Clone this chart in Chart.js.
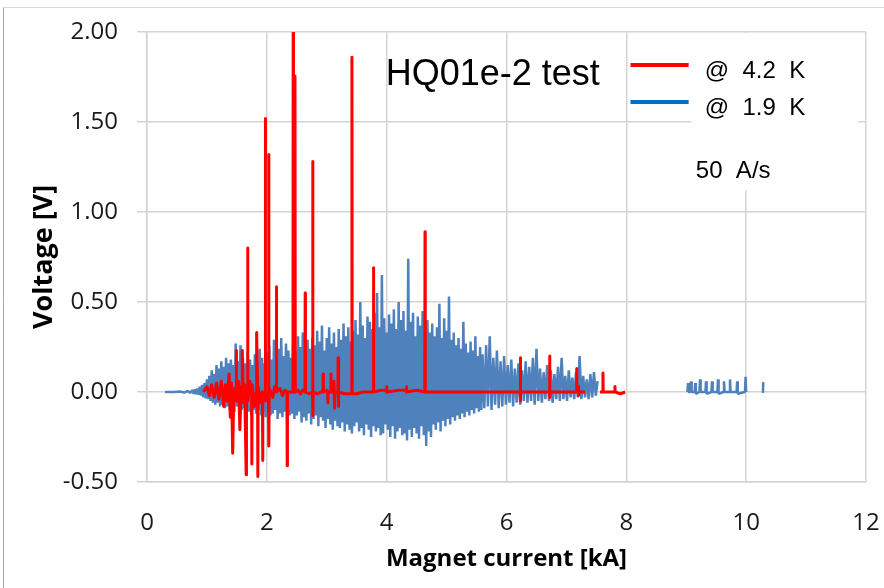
<!DOCTYPE html>
<html>
<head>
<meta charset="utf-8">
<script src="https://cdn.jsdelivr.net/npm/chart.js@4.4.1/dist/chart.umd.min.js"></script>
<style>
  html, body { margin: 0; padding: 0; background: #ffffff; }
  #wrap { width: 884px; height: 588px; }
</style>
</head>
<body>
<div id="wrap"><canvas id="quenchChart" width="884" height="588"></canvas></div>
<script>
// HQ01e-2 test - voltage vs magnet current, two temperatures

// axis ticks
const xTicks = [0, 2, 4, 6, 8, 10, 12];
const yTicks = [-0.5, 0, 0.5, 1.0, 1.5, 2.0];

// @ 4.2 K trace (red) - kA / V
const redCurrent = [
  0.94, 1.00, 1.04, 1.08, 1.12, 1.16, 1.20, 1.24, 1.28, 1.31,
  1.34, 1.37, 1.39, 1.41, 1.43, 1.45, 1.486, 1.49, 1.495, 1.53,
  1.55, 1.57, 1.586, 1.59, 1.61, 1.63, 1.655, 1.66, 1.676, 1.68,
  1.684, 1.72, 1.746, 1.75, 1.754, 1.80, 1.826, 1.83, 1.846, 1.85,
  1.854, 1.90, 1.926, 1.93, 1.934, 1.971, 1.975, 1.979, 2.026, 2.03,
  2.036, 2.04, 2.10, 2.13, 2.156, 2.16, 2.164, 2.22, 2.26, 2.30,
  2.336, 2.34, 2.344, 2.436, 2.44, 2.445, 2.466, 2.47, 2.475, 2.52,
  2.56, 2.60, 2.636, 2.64, 2.644, 2.70, 2.761, 2.765, 2.770, 2.775,
  2.85, 2.90, 2.936, 2.94, 2.944, 3.00, 3.016, 3.02, 3.024, 3.066,
  3.07, 3.074, 3.116, 3.12, 3.13, 3.14, 3.186, 3.19, 3.195, 3.20,
  3.30, 3.416, 3.42, 3.425, 3.50, 3.60, 3.776, 3.78, 3.784, 3.90,
  3.996, 4.00, 4.004, 4.20, 4.326, 4.33, 4.334, 4.50, 4.636, 4.64,
  4.644, 5.00, 6.00, 6.226, 6.23, 6.234, 6.238, 6.716, 6.72, 6.724,
  6.728, 7.166, 7.17, 7.174, 7.196, 7.20, 7.204, 7.21, 7.31, 7.45,
  7.56, 7.606, 7.61, 7.614, 7.806, 7.81, 7.814, 7.90, 7.98
];
const redVoltage = [
  0.00, 0.03, -0.02, 0.04, -0.03, 0.05, -0.04, 0.06, -0.08, 0.04,
  -0.05, 0.10, -0.14, 0.05, -0.34, 0.02, 0.00, 0.23, -0.05, 0.06,
  -0.21, 0.03, 0.00, 0.23, -0.06, 0.04, -0.46, 0.00, 0.00, 0.80,
  -0.05, 0.06, 0.00, -0.40, 0.04, -0.08, 0.00, 0.33, 0.00, -0.47,
  0.03, -0.06, 0.00, -0.38, 0.00, 0.00, 1.52, -0.05, 0.00, 1.32,
  -0.30, 0.02, -0.03, 0.03, 0.00, 0.585, 0.00, 0.02, -0.02, 0.01,
  0.00, -0.41, 0.00, 0.00, 2.20, 0.00, 0.00, 1.755, 0.00, 0.01,
  -0.01, 0.01, 0.00, 0.55, 0.00, -0.01, 0.00, 1.28, -0.13, 0.00,
  -0.01, 0.00, 0.00, 0.10, 0.00, 0.01, 0.00, -0.06, 0.00, 0.00,
  0.10, 0.00, 0.00, 0.06, -0.09, 0.00, 0.00, 0.19, -0.08, 0.00,
  -0.01, -0.01, 1.86, -0.01, -0.01, 0.00, 0.00, 0.69, 0.00, 0.01,
  0.01, 0.03, 0.00, 0.01, 0.01, 0.03, 0.00, 0.01, 0.00, 0.89,
  0.00, 0.00, 0.00, 0.00, 0.19, -0.05, 0.00, 0.00, 0.20, -0.03,
  0.00, 0.00, 0.13, 0.00, 0.00, 0.03, -0.02, 0.00, 0.00, null,
  0.00, 0.00, 0.105, 0.00, 0.00, 0.03, 0.00, -0.01, 0.00
];

// @ 1.9 K trace (blue) - kA / V
const blueCurrent = [
  0.30, 0.45, 0.55, 0.62, 0.68, 0.72, 0.76, 0.78,
  0.80, 0.82, 0.84, 0.86, 0.88, 0.90, 0.92, 0.94, 0.96, 0.98,
  1.00, 1.02, 1.04, 1.06, 1.08, 1.10, 1.12, 1.14, 1.16, 1.18,
  1.20, 1.22, 1.24, 1.26, 1.28, 1.30, 1.32, 1.34, 1.36, 1.38,
  1.40, 1.42, 1.44, 1.46, 1.48, 1.50, 1.52, 1.54, 1.56, 1.58,
  1.60, 1.62, 1.64, 1.66, 1.68, 1.70, 1.72, 1.74, 1.76, 1.78,
  1.80, 1.82, 1.84, 1.86, 1.88, 1.90, 1.92, 1.94, 1.96, 1.98,
  2.00, 2.02, 2.04, 2.06, 2.08, 2.10, 2.12, 2.14, 2.16, 2.18,
  2.20, 2.22, 2.24, 2.26, 2.28, 2.30, 2.32, 2.34, 2.36, 2.38,
  2.40, 2.42, 2.44, 2.46, 2.48, 2.50, 2.52, 2.54, 2.56, 2.58,
  2.60, 2.62, 2.64, 2.66, 2.68, 2.70, 2.72, 2.74, 2.76, 2.78,
  2.80, 2.82, 2.84, 2.86, 2.88, 2.90, 2.92, 2.94, 2.96, 2.98,
  3.00, 3.02, 3.04, 3.06, 3.08, 3.10, 3.12, 3.14, 3.16, 3.18,
  3.20, 3.22, 3.24, 3.26, 3.28, 3.30, 3.32, 3.34, 3.36, 3.38,
  3.40, 3.42, 3.44, 3.46, 3.48, 3.50, 3.52, 3.54, 3.56, 3.58,
  3.60, 3.62, 3.64, 3.66, 3.68, 3.70, 3.72, 3.74, 3.76, 3.78,
  3.80, 3.82, 3.84, 3.86, 3.88, 3.90, 3.92, 3.94, 3.96, 3.98,
  4.00, 4.02, 4.04, 4.06, 4.08, 4.10, 4.12, 4.14, 4.16, 4.18,
  4.20, 4.22, 4.24, 4.26, 4.28, 4.30, 4.32, 4.34, 4.36, 4.38,
  4.40, 4.42, 4.44, 4.46, 4.48, 4.50, 4.52, 4.54, 4.56, 4.58,
  4.60, 4.62, 4.64, 4.66, 4.68, 4.70, 4.72, 4.74, 4.76, 4.78,
  4.80, 4.82, 4.84, 4.86, 4.88, 4.90, 4.92, 4.94, 4.96, 4.98,
  5.00, 5.02, 5.04, 5.06, 5.08, 5.10, 5.12, 5.14, 5.16, 5.18,
  5.20, 5.22, 5.24, 5.26, 5.28, 5.30, 5.32, 5.34, 5.36, 5.38,
  5.40, 5.42, 5.44, 5.46, 5.48, 5.50, 5.52, 5.54, 5.56, 5.58,
  5.60, 5.63, 5.66, 5.69, 5.72, 5.75, 5.78, 5.81, 5.84, 5.87,
  5.90, 5.93, 5.96, 5.99, 6.02, 6.05, 6.08, 6.11, 6.14, 6.17,
  6.20, 6.23, 6.26, 6.29, 6.32, 6.35, 6.38, 6.41, 6.44, 6.47,
  6.50, 6.53, 6.56, 6.59, 6.62, 6.65, 6.68, 6.71, 6.74, 6.77,
  6.80, 6.83, 6.86, 6.89, 6.92, 6.95, 6.98, 7.01, 7.04, 7.07,
  7.10, 7.13, 7.16, 7.19, 7.22, 7.25, 7.28, 7.31, 7.34, 7.37,
  7.40, 7.43, 7.46, 7.49, 7.52, 8.50,
  9.02, 9.03, 9.04, 9.07, 9.08, 9.09, 9.14, 9.15, 9.16, 9.22,
  9.23, 9.24, 9.32, 9.33, 9.34, 9.42, 9.43, 9.44, 9.52, 9.53,
  9.54, 9.62, 9.63, 9.64, 9.72, 9.73, 9.74, 9.84, 9.85, 9.86,
  9.98, 9.99, 10.00, 10.10, 10.28, 10.285
];
const blueVoltage = [
  0.00, 0.00, 0.003, -0.003, 0.006, -0.005, 0.01, -0.01,
  0.015, -0.012, 0.02, -0.015, 0.03, -0.02, 0.04, -0.03, 0.05, -0.035,
  0.07, -0.04, 0.09, -0.05, 0.12, -0.06, 0.10, -0.07, 0.15, -0.06,
  0.13, -0.08, 0.17, -0.07, 0.14, -0.09, 0.19, -0.08, 0.16, -0.10,
  0.18, -0.09, 0.15, -0.11, 0.27, -0.08, 0.17, -0.12, 0.26, -0.10,
  0.19, -0.09, 0.16, -0.12, 0.22, -0.11, 0.18, -0.13, 0.15, -0.10,
  0.21, -0.12, 0.17, -0.10, 0.24, -0.13, 0.19, -0.11, 0.16, -0.14,
  0.22, -0.11, 0.26, -0.13, 0.18, -0.12, 0.29, -0.10, 0.21, -0.15,
  0.24, -0.12, 0.30, -0.14, 0.20, -0.11, 0.27, -0.16, 0.23, -0.13,
  0.19, -0.12, 0.28, -0.15, 0.22, -0.13, 0.31, -0.11, 0.25, -0.17,
  0.33, -0.14, 0.21, -0.16, 0.29, -0.12, 0.24, -0.18, 0.30, -0.15,
  0.26, -0.13, 0.34, -0.19, 0.28, -0.14, 0.37, -0.16, 0.23, -0.20,
  0.30, -0.15, 0.36, -0.18, 0.27, -0.21, 0.33, -0.16, 0.25, -0.19,
  0.35, -0.20, 0.29, -0.17, 0.38, -0.22, 0.31, -0.18, 0.36, -0.21,
  0.28, -0.23, 0.34, -0.19, 0.40, -0.17, 0.32, -0.22, 0.50, -0.20,
  0.37, -0.24, 0.30, -0.18, 0.42, -0.21, 0.39, -0.25, 0.35, -0.19,
  0.44, -0.22, 0.55, -0.20, 0.36, -0.24, 0.65, -0.23, 0.41, -0.18,
  0.33, -0.21, 0.43, -0.25, 0.38, -0.19, 0.46, -0.26, 0.35, -0.22,
  0.50, -0.20, 0.40, -0.24, 0.45, -0.23, 0.34, -0.27, 0.74, -0.21,
  0.39, -0.25, 0.44, -0.20, 0.31, -0.23, 0.42, -0.26, 0.37, -0.19,
  0.45, -0.24, 0.35, -0.30, 0.40, -0.22, 0.33, -0.25, 0.38, -0.18,
  0.31, -0.21, 0.36, -0.17, 0.49, -0.22, 0.30, -0.16, 0.41, -0.19,
  0.34, -0.15, 0.53, -0.18, 0.29, -0.14, 0.33, -0.16, 0.26, -0.13,
  0.30, -0.15, 0.24, -0.12, 0.39, -0.14, 0.27, -0.11, 0.22, -0.13,
  0.28, -0.10, 0.23, -0.12, 0.31, -0.09, 0.20, -0.11, 0.25, -0.10,
  0.21, -0.09, 0.26, -0.08, 0.31, -0.10, 0.19, -0.07, 0.23, -0.09,
  0.17, -0.08, 0.20, -0.07, 0.15, -0.06, 0.18, -0.08, 0.13, -0.06,
  0.16, -0.07, 0.12, -0.05, 0.17, -0.06, 0.14, -0.05, 0.19, -0.07,
  0.24, -0.05, 0.13, -0.06, 0.11, -0.04, 0.15, -0.05, 0.12, -0.06,
  0.10, -0.04, 0.14, -0.05, 0.19, -0.04, 0.09, -0.05, 0.12, -0.03,
  0.08, -0.04, 0.11, -0.03, 0.20, -0.04, 0.09, -0.03, 0.07, -0.04,
  0.10, -0.03, 0.11, -0.02, 0.06, null,
  0.00, 0.05, 0.00, 0.00, 0.06, 0.00, 0.00, 0.05, -0.01, 0.00,
  0.07, 0.00, 0.00, 0.06, -0.01, 0.00, 0.06, 0.00, 0.00, 0.07,
  -0.01, 0.00, 0.06, 0.00, 0.00, 0.07, 0.00, 0.00, 0.06, -0.01,
  0.00, 0.085, 0.00, null, -0.005, 0.055
];

function toPoints(xs, ys) {
    const n = Math.min(xs.length, ys.length);
    const pts = [];
    for (let i = 0; i < n; i++) pts.push({ x: xs[i], y: ys[i] });
    return pts;
}

// white legend box, frame and text labels drawn on top of the grid
const overlayPlugin = {
    id: 'overlay',
    beforeDraw(chart) {
        const c = chart.ctx;
        c.save();
        c.fillStyle = '#ffffff';
        c.fillRect(0, 0, chart.width, chart.height);
        c.lineWidth = 1;
        c.strokeStyle = '#d9d9d9';
        c.beginPath();
        c.moveTo(3.5, 7.5);
        c.lineTo(chart.width, 7.5);
        c.stroke();
        c.strokeStyle = '#a6a6a6';
        c.beginPath();
        c.moveTo(3.5, 7.5);
        c.lineTo(3.5, chart.height);
        c.stroke();
        c.restore();
    },
    beforeDatasetsDraw(chart) {
        const c = chart.ctx;
        const xs = chart.scales.x, ys = chart.scales.y;
        const left = xs.getPixelForValue(9.09);
        const right = xs.getPixelForValue(11.87);
        const top = ys.getPixelForValue(2.0) + 1;
        const bottom = ys.getPixelForValue(1.12);
        c.save();
        c.fillStyle = '#ffffff';
        c.fillRect(left, top, right - left, bottom - top);
        c.restore();
    },
    afterDatasetsDraw(chart) {
        const c = chart.ctx;
        const xs = chart.scales.x, ys = chart.scales.y;
        const px = v => xs.getPixelForValue(v);
        const py = v => ys.getPixelForValue(v);
        c.save();
        c.fillStyle = '#000000';
        c.textBaseline = 'alphabetic';
        c.textAlign = 'left';
        c.font = '36px "Liberation Sans", Arial, sans-serif';
        c.fillText('HQ01e-2 test', px(3.985), py(1.706));

        c.lineWidth = 4;
        c.strokeStyle = '#ff0000';
        c.beginPath();
        c.moveTo(px(8.07), py(1.817));
        c.lineTo(px(9.04), py(1.817));
        c.stroke();
        c.strokeStyle = '#0070c0';
        c.beginPath();
        c.moveTo(px(8.07), py(1.611));
        c.lineTo(px(9.04), py(1.611));
        c.stroke();

        c.font = '24px "Liberation Sans", Arial, sans-serif';
        c.fillText('@  4.2  K', px(9.31), py(1.744));
        c.fillText('@  1.9  K', px(9.31), py(1.539));
        c.fillText('50  A/s', px(9.16), py(1.189));
        c.restore();
    }
};

document.addEventListener('DOMContentLoaded', function() {
    const ctx = document.getElementById('quenchChart').getContext('2d');
    const gridColor = '#d4d4d4';

    new Chart(ctx, {
        type: 'line',
        data: {
            datasets: [{
                label: '@ 4.2 K',
                data: toPoints(redCurrent, redVoltage),
                borderColor: '#ff0000',
                borderWidth: 3,
                borderJoinStyle: 'round',
                pointRadius: 0,
                tension: 0,
                spanGaps: false,
                order: 0
            }, {
                label: '@ 1.9 K',
                data: toPoints(blueCurrent, blueVoltage),
                borderColor: 'rgb(79, 129, 189)',
                borderWidth: 2.5,
                borderJoinStyle: 'bevel',
                pointRadius: 0,
                tension: 0,
                spanGaps: false,
                order: 1
            }]
        },
        options: {
            responsive: false,
            animation: false,
            devicePixelRatio: 1,
            layout: { padding: { top: 32, right: 18, left: 0, bottom: 0 } },
            plugins: {
                legend: { display: false },
                tooltip: { enabled: false }
            },
            scales: {
                x: {
                    type: 'linear',
                    min: xTicks[0],
                    max: xTicks[xTicks.length - 1],
                    afterBuildTicks: s => { s.ticks = xTicks.map(v => ({ value: v })); },
                    afterFit: s => { s.height = 106; s.paddingLeft = 0; s.paddingRight = 0; },
                    grid: { color: gridColor, lineWidth: 1.5, drawTicks: false },
                    border: { color: gridColor, width: 1.5 },
                    ticks: {
                        color: '#1a1a1a',
                        padding: 27,
                        font: { family: '"Open Sans", sans-serif', size: 24 }
                    },
                    title: {
                        display: true,
                        text: 'Magnet current [kA]',
                        color: '#000000',
                        padding: { top: 0, bottom: 14 },
                        font: { family: '"Open Sans", sans-serif', size: 24, weight: 'bold' }
                    }
                },
                y: {
                    type: 'linear',
                    min: yTicks[0],
                    max: yTicks[yTicks.length - 1],
                    afterBuildTicks: s => { s.ticks = yTicks.map(v => ({ value: v })); },
                    afterFit: s => { s.width = 147; s.paddingTop = 0; s.paddingBottom = 0; },
                    grid: { color: gridColor, lineWidth: 1.5, tickLength: 10 },
                    border: { color: gridColor, width: 1.5 },
                    ticks: {
                        color: '#1a1a1a',
                        padding: 19,
                        font: { family: '"Open Sans", sans-serif', size: 24 },
                        callback: v => v.toFixed(2)
                    },
                    title: {
                        display: true,
                        text: 'Voltage [V]',
                        color: '#000000',
                        padding: { top: 28, bottom: 0 },
                        font: { family: '"Open Sans", sans-serif', size: 27, weight: 'bold' }
                    }
                }
            }
        },
        plugins: [overlayPlugin]
    });
});
</script>
</body>
</html>
